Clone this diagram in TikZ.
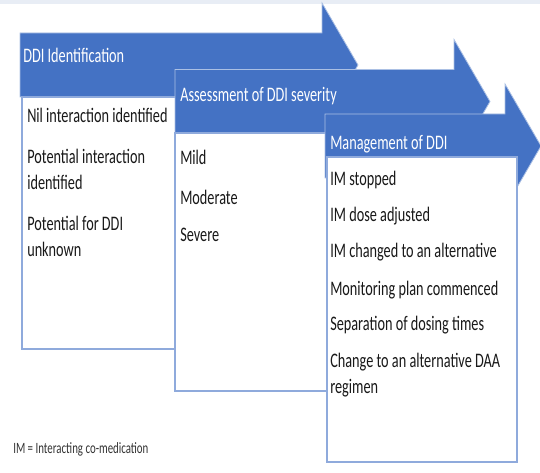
\documentclass[tikz,border=0pt]{standalone}
\usepackage{fontspec}
\setmainfont{Carlito}[FakeStretch=0.69]
\definecolor{StepBlue}{HTML}{4472C4}
\definecolor{StepLine}{HTML}{8FAADC}
\definecolor{TopBand}{HTML}{E8EDF5}

\begin{document}
\begin{tikzpicture}[x=.75pt,y=-.75pt,
  stepbox/.style={fill=StepBlue,draw=white!55!StepBlue,line width=.6pt},
  listbox/.style={fill=white,draw=StepLine,line width=1.2pt},
  head/.style={anchor=base west,inner sep=0pt,text=white,font=\fontsize{15.5}{19}\selectfont},
  item/.style={anchor=base west,inner sep=0pt,align=left,text=black!90,font=\fontsize{15.5}{19.5}\selectfont}]
  \useasboundingbox (0,0) rectangle (540,473);
  \fill[TopBand] (0,0) rectangle (540,4);
  % arrow: left end, tip height, start of head; shaft 64 high, head 124 high
  \newcommand\steparrow[3]{\draw[stepbox] (#1,#2-32) -- (#3,#2-32) -- (#3,#2-62) -- (#3+36,#2)
    -- (#3,#2+62) -- (#3,#2+32) -- (#1,#2+32) -- cycle;}
  % step 1 (y of an item = baseline of its last line)
  \steparrow{20}{65}{322}
  \draw[listbox] (22,97) rectangle (200,349);
  \node[head] (h1) at (23,63) {DDI Identification};
  \foreach \t/\y [count=\i] in {Nil interaction identified/123,
      Potential interaction\\identified/190, Potential for DDI\\unknown/257}
    \node[item] (a\i) at (27,\y) {\t};
  % step 2
  \steparrow{175}{101.5}{454}
  \draw[listbox] (175,133) rectangle (350,391);
  \node[head] (h2) at (180,102) {Assessment of DDI severity};
  \foreach \t/\y [count=\i] in {Mild/165, Moderate/205, Severe/242}
    \node[item] (b\i) at (180,\y) {\t};
  % step 3
  \steparrow{325}{146}{505}
  \draw[listbox] (327,157) rectangle (517,462);
  \node[head] (h3) at (330,150) {Management of DDI};
  \foreach \t/\y [count=\i] in {IM stopped/186, IM dose adjusted/222,
      IM changed to an alternative/258, Monitoring plan commenced/296,
      Separation of dosing times/331, Change to an alternative DAA\\regimen/394}
    \node[item] (c\i) at (330,\y) {\t};
  \node[anchor=base west,inner sep=0pt,text=black!80,font=\fontsize{11.8}{14}\selectfont]
    (note) at (13,454) {IM = Interacting co-medication};
\end{tikzpicture}
\end{document}
